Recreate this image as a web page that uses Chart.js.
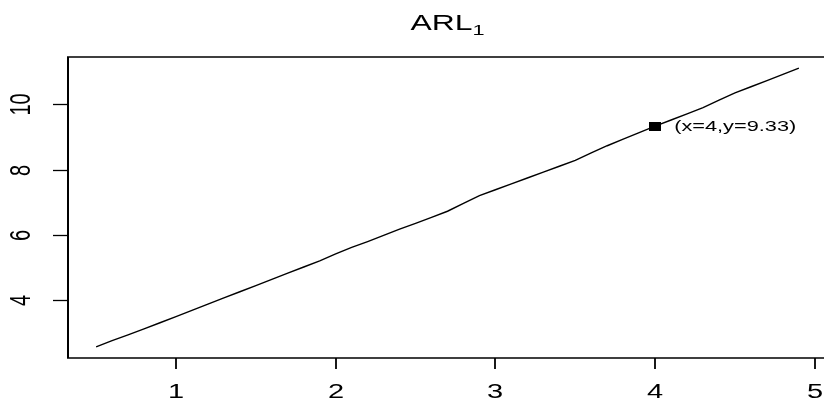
<!DOCTYPE html>
<html>
<head>
<meta charset="utf-8">
<script src="https://cdn.jsdelivr.net/npm/chart.js@4"></script>
<style>
  html, body { margin: 0; padding: 0; background: #fff; overflow: hidden; }
  #wrap { width: 824px; height: 401px; overflow: hidden; }
</style>
</head>
<body>
<div id="wrap"><canvas id="c" width="840" height="401"></canvas></div>
<script>
// Shift sizes and the out-of-control average run length at each shift
const shiftValues = [
  0.5, 0.6, 0.7, 0.8, 0.9, 1.0, 1.1, 1.2, 1.3, 1.4,
  1.5, 1.6, 1.7, 1.8, 1.9, 2.0, 2.1, 2.2, 2.3, 2.4,
  2.5, 2.6, 2.7, 2.8, 2.9, 3.0, 3.1, 3.2, 3.3, 3.4,
  3.5, 3.6, 3.7, 3.8, 3.9, 4.0, 4.1, 4.2, 4.3, 4.4,
  4.5, 4.6, 4.7, 4.8, 4.9
];
const arlValues = [
  2.56, 2.75, 2.93, 3.11, 3.30, 3.49, 3.68, 3.87, 4.06, 4.25,
  4.44, 4.63, 4.82, 5.01, 5.20, 5.41, 5.61, 5.79, 5.98, 6.17,
  6.35, 6.53, 6.72, 6.96, 7.20, 7.38, 7.56, 7.74, 7.92, 8.10,
  8.28, 8.51, 8.73, 8.93, 9.13, 9.33, 9.52, 9.71, 9.90, 10.13,
  10.35, 10.54, 10.73, 10.92, 11.11
];
const xTickValues = [1, 2, 3, 4, 5];
const yTickValues = [4, 6, 8, 10];
const markedX = [4];
const markedY = [9.33];

const FONT = '"Liberation Sans", Arial, sans-serif';
const WIDEN = 1.45;   // text is drawn horizontally widened

const linePoints = shiftValues.map((x, i) => ({ x: x, y: arlValues[i] }));
const markPoints = markedX.map((x, i) => ({ x: x, y: markedY[i] }));

// R-style axis range: data range padded by 4% on each side
function padded(arr) {
  const lo = Math.min(...arr), hi = Math.max(...arr);
  const d = (hi - lo) * 0.04;
  return [lo - d, hi + d];
}
const [xMin, xMax] = padded(shiftValues);
const [yMin, yMax] = padded(arlValues);

// filled rectangle used as the marker glyph
const markGlyph = document.createElement('canvas');
markGlyph.width = 12;
markGlyph.height = 9;
(function () {
  const g = markGlyph.getContext('2d');
  g.fillStyle = '#000';
  g.fillRect(0, 0, 12, 9);
})();

function wideText(ctx, text, x, y, angle) {
  ctx.save();
  ctx.translate(x, y);
  ctx.scale(WIDEN, 1);
  if (angle) ctx.rotate(angle);
  ctx.fillText(text, 0, 0);
  ctx.restore();
}

const decorations = {
  id: 'decorations',
  afterDraw(chart) {
    const ctx = chart.ctx;
    const a = chart.chartArea;
    const xs = chart.scales.x, ys = chart.scales.y;
    ctx.save();
    ctx.strokeStyle = '#000';
    ctx.fillStyle = '#000';

    // plot frame: vertical sides a bit heavier than horizontal ones
    ctx.lineWidth = 1.5;
    ctx.beginPath();
    ctx.moveTo(a.left - 1, a.top); ctx.lineTo(a.right, a.top);
    ctx.moveTo(a.left - 1, a.bottom); ctx.lineTo(a.right, a.bottom);
    ctx.stroke();
    ctx.lineWidth = 2;
    ctx.beginPath();
    ctx.moveTo(a.left, a.top); ctx.lineTo(a.left, a.bottom);
    ctx.moveTo(a.right, a.top); ctx.lineTo(a.right, a.bottom);
    ctx.stroke();

    // axis ticks and labels
    ctx.font = '20px ' + FONT;
    ctx.textAlign = 'center';
    ctx.textBaseline = 'middle';
    xTickValues.forEach(v => {
      const px = Math.round(xs.getPixelForValue(v));
      ctx.lineWidth = 1.8;
      ctx.beginPath();
      ctx.moveTo(px, a.bottom);
      ctx.lineTo(px, a.bottom + 11);
      ctx.stroke();
      wideText(ctx, String(v), px, a.bottom + 34, 0);
    });
    yTickValues.forEach(v => {
      const py = Math.round(ys.getPixelForValue(v)) + 0.5;
      ctx.lineWidth = 1.3;
      ctx.beginPath();
      ctx.moveTo(a.left, py);
      ctx.lineTo(a.left - 15, py);
      ctx.stroke();
      wideText(ctx, String(v), a.left - 46, py, -Math.PI / 2);
    });

    // value label beside the marked point
    ctx.font = '15px ' + FONT;
    ctx.textAlign = 'left';
    markPoints.forEach(p => {
      const px = xs.getPixelForValue(p.x), py = ys.getPixelForValue(p.y);
      wideText(ctx, '(x=' + p.x + ',y=' + p.y + ')', px + 19, py + 1, 0);
    });

    // title with subscript
    const cx = (a.left + a.right) / 2;
    ctx.font = '22px ' + FONT;
    const w1 = ctx.measureText('ARL').width * WIDEN;
    ctx.font = '15px ' + FONT;
    const w2 = ctx.measureText('1').width * WIDEN;
    const start = cx - (w1 + w2) / 2;
    ctx.textBaseline = 'alphabetic';
    ctx.font = '22px ' + FONT;
    wideText(ctx, 'ARL', start, 30, 0);
    ctx.font = '15px ' + FONT;
    wideText(ctx, '1', start + w1, 35, 0);
    ctx.restore();
  }
};

new Chart(document.getElementById('c'), {
  type: 'scatter',
  data: {
    datasets: [
      {
        data: linePoints,
        showLine: true,
        borderColor: '#000',
        borderWidth: 1.4,
        pointRadius: 0,
        tension: 0
      },
      {
        data: markPoints,
        pointStyle: markGlyph,
        pointRadius: 6,
        backgroundColor: '#000',
        borderColor: '#000',
        borderWidth: 0
      }
    ]
  },
  options: {
    responsive: false,
    animation: false,
    events: [],
    layout: { padding: { left: 68, top: 57, right: 13, bottom: 43 } },
    plugins: { legend: { display: false }, tooltip: { enabled: false } },
    scales: {
      x: { type: 'linear', min: xMin, max: xMax, display: false },
      y: { type: 'linear', min: yMin, max: yMax, display: false }
    }
  },
  plugins: [decorations]
});
</script>
</body>
</html>
